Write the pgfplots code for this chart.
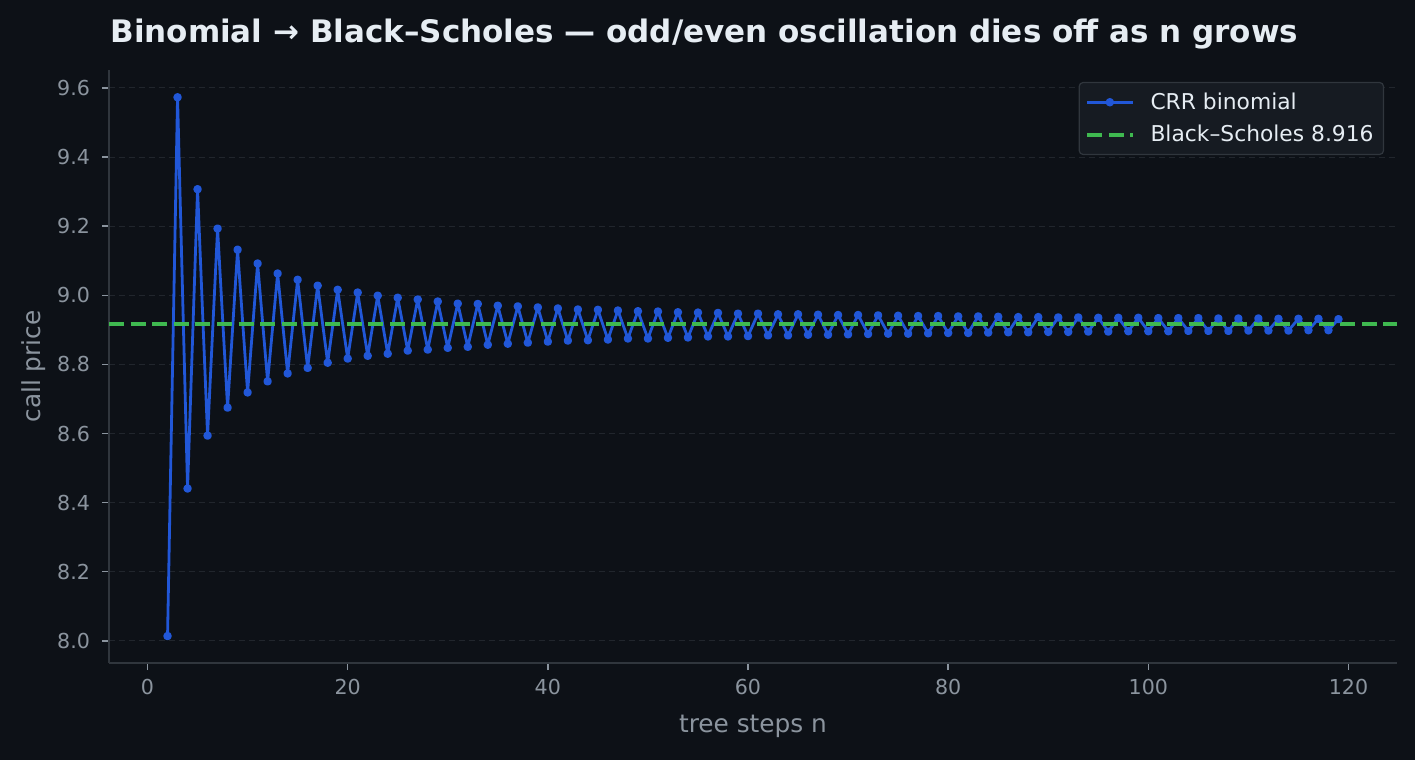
\documentclass[border=0pt]{standalone}
\usepackage{pgfplots}
\pgfplotsset{compat=1.18}
\usepackage{fontspec}
\setmainfont{DejaVu Sans}
\definecolor{bg}{HTML}{0D1117}
\definecolor{titlec}{HTML}{E6EDF3}
\definecolor{tickc}{HTML}{8B949E}
\definecolor{labelc}{HTML}{8B949E}
\definecolor{spine}{HTML}{30363D}
\definecolor{gridc}{HTML}{21262D}
\definecolor{legbg}{HTML}{161B22}
\definecolor{legedge}{HTML}{30363D}
\definecolor{crr}{HTML}{2157D8}
\definecolor{bsg}{HTML}{3FB950}
\pgfplotstableread{
n v
2 8.014
3 9.573
4 8.441
5 9.307
6 8.594
7 9.193
8 8.675
9 9.132
10 8.719
11 9.092
12 8.751
13 9.063
14 8.774
15 9.045
16 8.790
17 9.028
18 8.805
19 9.016
20 8.817
21 9.008
22 8.825
23 8.999
24 8.831
25 8.993
26 8.840
27 8.988
28 8.843
29 8.982
30 8.848
31 8.976
32 8.851
33 8.975
34 8.857
35 8.970
36 8.860
37 8.968
38 8.863
39 8.965
40 8.866
41 8.962
42 8.869
43 8.959
44 8.870
45 8.958
46 8.872
47 8.956
48 8.875
49 8.954
50 8.875
51 8.953
52 8.877
53 8.951
54 8.878
55 8.950
56 8.881
57 8.949
58 8.881
59 8.947
60 8.882
61 8.947
62 8.884
63 8.945
64 8.884
65 8.945
66 8.886
67 8.944
68 8.886
69 8.943
70 8.887
71 8.943
72 8.888
73 8.942
74 8.889
75 8.941
76 8.889
77 8.940
78 8.890
79 8.940
80 8.891
81 8.939
82 8.891
83 8.939
84 8.892
85 8.938
86 8.893
87 8.937
88 8.893
89 8.937
90 8.894
91 8.936
92 8.894
93 8.936
94 8.895
95 8.935
96 8.895
97 8.935
98 8.896
99 8.935
100 8.896
101 8.934
102 8.896
103 8.934
104 8.897
105 8.934
106 8.897
107 8.933
108 8.897
109 8.933
110 8.898
111 8.933
112 8.898
113 8.932
114 8.898
115 8.932
116 8.899
117 8.932
118 8.899
119 8.931
}\crrdata
\begin{document}
\begin{tikzpicture}
\fill[bg] (0,0) rectangle (707.5bp,380bp);
\useasboundingbox (0,0) rectangle (707.5bp,380bp);
\node[anchor=base west, font=\fontsize{15.5bp}{18bp}\selectfont\bfseries, text=titlec, inner sep=0pt] at (55bp,358.5bp) {Binomial → Black–Scholes — odd/even oscillation dies off as n grows};
\begin{axis}[
  at={(54.5bp,48.5bp)}, anchor=south west, scale only axis,
  width=644bp, height=296.5bp,
  xmin=-3.85, xmax=124.85, ymin=7.936, ymax=9.652,
  axis x line*=bottom, axis y line*=left,
  axis line style={spine, line width=0.7bp},
  xtick={0,20,40,60,80,100,120},
  ytick={8,8.2,8.4,8.6,8.8,9,9.2,9.4,9.6},
  yticklabel style={xshift=-2.5bp, /pgf/number format/.cd, fixed, fixed zerofill, precision=1},
  /pgf/number format/assume math mode=true,
  tick align=outside, major tick length=3.5bp,
  tick style={tickc, line width=0.7bp},
  ymajorgrids,
  grid style={gridc, dash pattern=on 3bp off 2bp, line width=0.5bp},
  ticklabel style={font=\fontsize{10.3bp}{12bp}\selectfont, text=tickc},
  xticklabel style={yshift=-1bp},
  xlabel={tree steps n}, ylabel={call price},
  xlabel style={yshift=-3.5bp},
  ylabel style={yshift=-1bp},
  label style={font=\fontsize{12.4bp}{14bp}\selectfont, text=labelc},
  legend cell align=left,
  legend style={at={(axis description cs:0.99,0.98)}, anchor=north east,
    fill=legbg, draw=legedge, rounded corners=2bp, line width=0.6bp,
    text=titlec, font=\fontsize{10.9bp}{13bp}\selectfont,
    inner xsep=3bp, inner ysep=3bp, row sep=2.5bp},
  legend image code/.code={\draw[mark repeat=2,mark phase=2,#1] plot coordinates {(0cm,0cm) (0.4cm,0cm) (0.8cm,0cm)};\path (0.8cm+6bp,0cm);},
]
\addplot[crr, line width=1.4bp, line join=round, mark=*, mark size=1.4bp, mark options={solid, fill=crr, draw=crr}] table[x=n, y=v] {\crrdata};
\addlegendentry{CRR binomial}
\addplot[bsg, line width=2bp, dash pattern=on 7.5bp off 3.3bp] coordinates {(-3.85,8.916) (124.85,8.916)};
\addlegendentry{Black–Scholes 8.916}
\end{axis}
\end{tikzpicture}
\end{document}
